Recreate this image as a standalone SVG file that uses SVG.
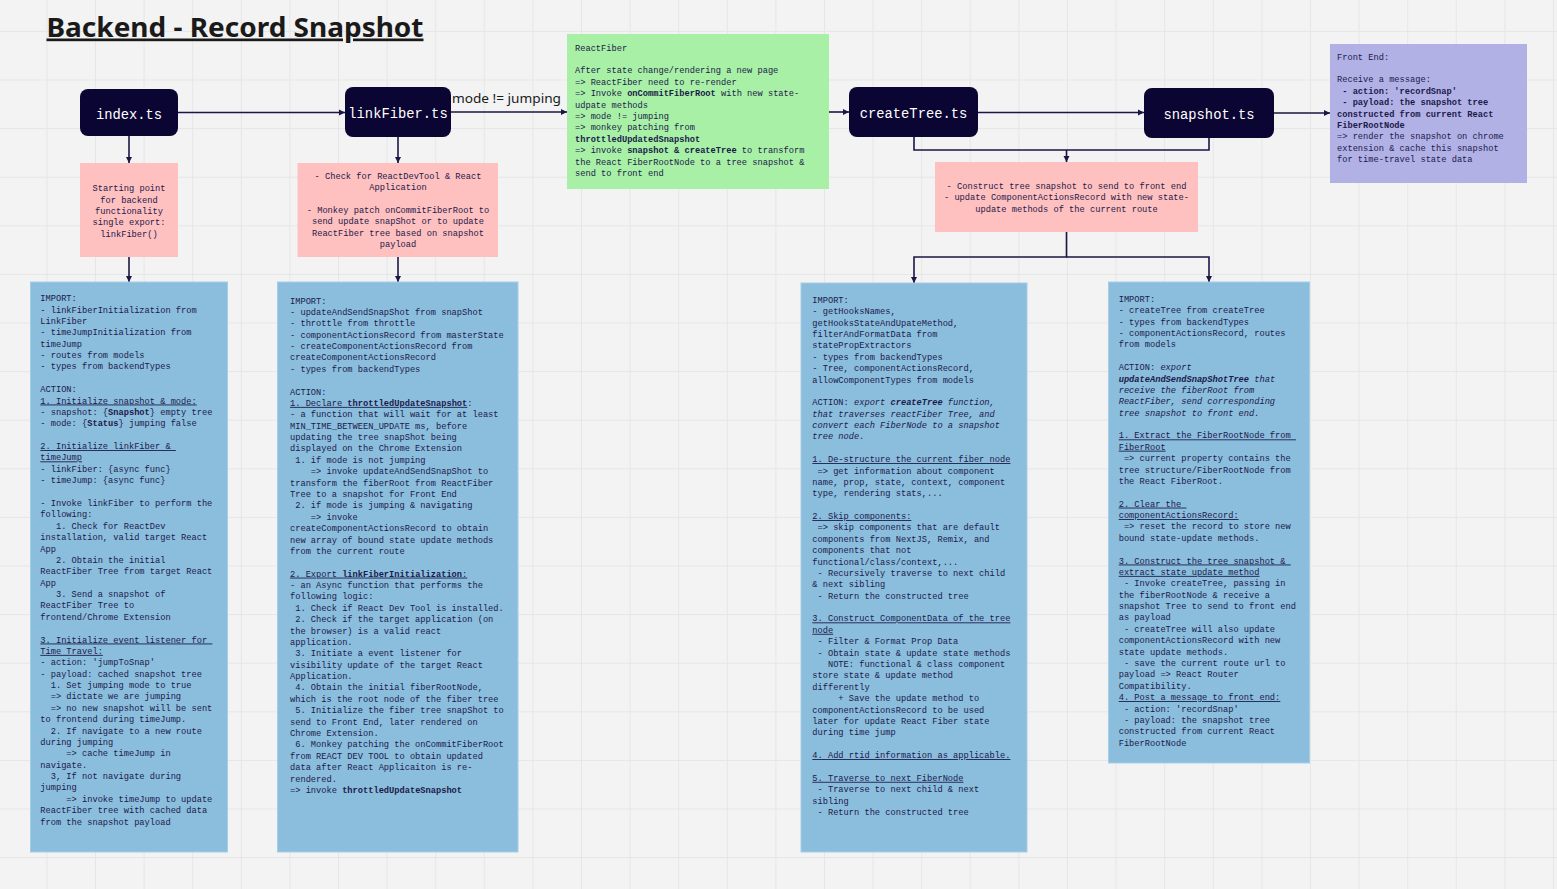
<svg xmlns="http://www.w3.org/2000/svg" width="1557" height="889" viewBox="0 0 1557 889" xml:space="preserve">
<defs>
<pattern id="grid" x="46.4" y="30.9" width="48.6" height="48.6" patternUnits="userSpaceOnUse"><path d="M0.5,0 V48.6 M0,0.5 H48.6" stroke="#e6e6e6" stroke-width="1" fill="none"/></pattern>
<marker id="ah" markerUnits="userSpaceOnUse" markerWidth="7" markerHeight="7" refX="6" refY="3.5" orient="auto"><path d="M0,0.5 L6,3.5 L0,6.5 z" fill="#1b1646"/></marker>
<style>
text{white-space:pre}
.t{font-family:"Liberation Mono","DejaVu Sans Mono",monospace;font-size:8.7px;fill:#1b1a4a;white-space:pre}
.c{text-anchor:middle}
.b{font-weight:bold}
.i{font-style:italic}
.u{text-decoration:underline}
.nd{fill:#0b0533}
.nt{font-family:"Liberation Mono","DejaVu Sans Mono",monospace;font-size:13.8px;fill:#ffffff;text-anchor:middle}
.pink{fill:#ffc0c0}
.blue{fill:#8bbddd;stroke:#a6cde8;stroke-width:1}
.cn{fill:none;stroke:#1b1646;stroke-width:1.6}
</style>
</defs>
<rect width="1557" height="889" fill="#f3f3f3"/>
<rect width="1557" height="889" fill="url(#grid)"/>
<text x="46.5" y="36.5" font-family="'Noto Sans','Open Sans',sans-serif" font-size="27" font-weight="bold" fill="#1a1a1a" text-decoration="underline" textLength="377" lengthAdjust="spacingAndGlyphs">Backend - Record Snapshot</text>
<g id="connectors">
<path class="cn" d="M178,112.5 H345" marker-end="url(#ah)"/>
<path class="cn" d="M451,112 H567" marker-end="url(#ah)"/>
<path class="cn" d="M829,112 H849" marker-end="url(#ah)"/>
<path class="cn" d="M978,112.5 H1144" marker-end="url(#ah)"/>
<path class="cn" d="M1274,113 H1330" marker-end="url(#ah)"/>
<path class="cn" d="M129,136 V163" marker-end="url(#ah)"/>
<path class="cn" d="M129,257 V282" marker-end="url(#ah)"/>
<path class="cn" d="M398,137 V163" marker-end="url(#ah)"/>
<path class="cn" d="M398,257 V282" marker-end="url(#ah)"/>
<path class="cn" d="M914,137 V150 H1209 V138"/>
<path class="cn" d="M1066.5,150 V162" marker-end="url(#ah)"/>
<path class="cn" d="M1066.5,232 V257 H914 V283" marker-end="url(#ah)"/>
<path class="cn" d="M1066.5,257 H1209 V282" marker-end="url(#ah)"/>
<text x="452" y="102.5" font-family="'Noto Sans','Open Sans',sans-serif" font-size="13" fill="#1a1a1a" textLength="109" lengthAdjust="spacingAndGlyphs">mode != jumping</text>
</g>
<g id="index-ts"><rect class="nd" x="80" y="89" width="98" height="47" rx="8"/><text class="nt" x="129" y="119">index.ts</text></g>
<g id="linkfiber-ts"><rect class="nd" x="345" y="87" width="106" height="50" rx="8"/><text class="nt" x="398" y="118">linkFiber.ts</text></g>
<g id="createtree-ts"><rect class="nd" x="849" y="87" width="129" height="50" rx="8"/><text class="nt" x="913.5" y="118">createTree.ts</text></g>
<g id="snapshot-ts"><rect class="nd" x="1144" y="88" width="130" height="50" rx="8"/><text class="nt" x="1209" y="119">snapshot.ts</text></g>
<g id="index-note"><rect class="pink" x="80" y="163" width="98" height="94"/>
<text class="t c" x="129" y="191.1">Starting point</text>
<text class="t c" x="129" y="202.5">for backend</text>
<text class="t c" x="129" y="213.9">functionality</text>
<text class="t c" x="129" y="225.3">single export:</text>
<text class="t c" x="129" y="236.7">linkFiber()</text>
</g>
<g id="linkfiber-note"><rect class="pink" x="297.5" y="163" width="200.5" height="94"/>
<text class="t c" x="398" y="178.8">- Check for ReactDevTool &amp; React</text>
<text class="t c" x="398" y="190.2">Application</text>
<text class="t c" x="398" y="213">- Monkey patch onCommitFiberRoot to</text>
<text class="t c" x="398" y="224.4">send update snapShot or to update</text>
<text class="t c" x="398" y="235.8">ReactFiber tree based on snapshot</text>
<text class="t c" x="398" y="247.2">payload</text>
</g>
<g id="reactfiber"><rect x="567" y="34" width="262" height="155" fill="#a8f0a6"/>
<text class="t" x="575" y="50.5">ReactFiber</text>
<text class="t" x="575" y="73.3">After state change/rendering a new page</text>
<text class="t" x="575" y="84.7">=&gt; ReactFiber need to re-render</text>
<text class="t" x="575" y="96.1">=&gt; Invoke <tspan class="b">onCommitFiberRoot</tspan> with new state-</text>
<text class="t" x="575" y="107.5">udpate methods</text>
<text class="t" x="575" y="118.9">=&gt; mode != jumping</text>
<text class="t" x="575" y="130.3">=&gt; monkey patching from</text>
<text class="t b" x="575" y="141.7">throttledUpdatedSnapshot</text>
<text class="t" x="575" y="153.1">=&gt; invoke <tspan class="b">snapshot &amp; createTree</tspan> to transform</text>
<text class="t" x="575" y="164.5">the React FiberRootNode to a tree snapshot &amp;</text>
<text class="t" x="575" y="175.9">send to front end</text>
</g>
<g id="tree-note"><rect class="pink" x="935" y="162" width="263" height="70"/>
<text class="t c" x="1066.5" y="188.8">- Construct tree snapshot to send to front end</text>
<text class="t c" x="1066.5" y="200.2">- update ComponentActionsRecord with new state-</text>
<text class="t c" x="1066.5" y="211.6">update methods of the current route</text>
</g>
<g id="front-end"><rect x="1330" y="44" width="197" height="139" fill="#b2b1e6"/>
<text class="t" x="1337" y="59.5">Front End:</text>
<text class="t" x="1337" y="82.3">Receive a message:</text>
<text class="t b" x="1337" y="93.7"> - action: 'recordSnap'</text>
<text class="t b" x="1337" y="105.1"> - payload: the snapshot tree</text>
<text class="t b" x="1337" y="116.5">constructed from current React</text>
<text class="t b" x="1337" y="127.9">FiberRootNode</text>
<text class="t" x="1337" y="139.3">=&gt; render the snapshot on chrome</text>
<text class="t" x="1337" y="150.7">extension &amp; cache this snapshot</text>
<text class="t" x="1337" y="162.1">for time-travel state data</text>
</g>
<g id="index-detail"><rect class="blue" x="30.5" y="282" width="197" height="570"/>
<text class="t" x="40.3" y="301.1">IMPORT:</text>
<text class="t" x="40.3" y="312.5">- linkFiberInitialization from</text>
<text class="t" x="40.3" y="323.9">LinkFiber</text>
<text class="t" x="40.3" y="335.2">- timeJumpInitialization from</text>
<text class="t" x="40.3" y="346.6">timeJump</text>
<text class="t" x="40.3" y="358">- routes from models</text>
<text class="t" x="40.3" y="369.4">- types from backendTypes</text>
<text class="t" x="40.3" y="392.1">ACTION:</text>
<text class="t u" x="40.3" y="403.5">1. Initialize snapshot &amp; mode:</text>
<text class="t" x="40.3" y="414.9">- snapshot: {<tspan class="b">Snapshot</tspan>} empty tree</text>
<text class="t" x="40.3" y="426.3">- mode: {<tspan class="b">Status</tspan>} jumping false</text>
<text class="t u" x="40.3" y="449">2. Initialize linkFiber &amp; </text>
<text class="t u" x="40.3" y="460.4">timeJump</text>
<text class="t" x="40.3" y="471.8">- linkFiber: {async func}</text>
<text class="t" x="40.3" y="483.2">- timeJump: {async func}</text>
<text class="t" x="40.3" y="505.9">- Invoke linkFiber to perform the</text>
<text class="t" x="40.3" y="517.3">following:</text>
<text class="t" x="40.3" y="528.7">   1. Check for ReactDev</text>
<text class="t" x="40.3" y="540.1">installation, valid target React</text>
<text class="t" x="40.3" y="551.5">App</text>
<text class="t" x="40.3" y="562.8">   2. Obtain the initial</text>
<text class="t" x="40.3" y="574.2">ReactFiber Tree from target React</text>
<text class="t" x="40.3" y="585.6">App</text>
<text class="t" x="40.3" y="597">   3. Send a snapshot of</text>
<text class="t" x="40.3" y="608.4">ReactFiber Tree to</text>
<text class="t" x="40.3" y="619.7">frontend/Chrome Extension</text>
<text class="t u" x="40.3" y="642.5">3. Initialize event listener for </text>
<text class="t u" x="40.3" y="653.9">Time Travel:</text>
<text class="t" x="40.3" y="665.3">- action: 'jumpToSnap'</text>
<text class="t" x="40.3" y="676.6">- payload: cached snapshot tree</text>
<text class="t" x="40.3" y="688">  1. Set jumping mode to true</text>
<text class="t" x="40.3" y="699.4">  =&gt; dictate we are jumping</text>
<text class="t" x="40.3" y="710.8">  =&gt; no new snapshot will be sent</text>
<text class="t" x="40.3" y="722.2">to frontend during timeJump.</text>
<text class="t" x="40.3" y="733.5">  2. If navigate to a new route</text>
<text class="t" x="40.3" y="744.9">during jumping</text>
<text class="t" x="40.3" y="756.3">     =&gt; cache timeJump in</text>
<text class="t" x="40.3" y="767.7">navigate.</text>
<text class="t" x="40.3" y="779.1">  3, If not navigate during</text>
<text class="t" x="40.3" y="790.4">jumping</text>
<text class="t" x="40.3" y="801.8">     =&gt; invoke timeJump to update</text>
<text class="t" x="40.3" y="813.2">ReactFiber tree with cached data</text>
<text class="t" x="40.3" y="824.6">from the snapshot payload</text>
</g>
<g id="linkfiber-detail"><rect class="blue" x="277.5" y="282" width="240.5" height="570"/>
<text class="t" x="290" y="303.5">IMPORT:</text>
<text class="t" x="290" y="314.9">- updateAndSendSnapShot from snapShot</text>
<text class="t" x="290" y="326.3">- throttle from throttle</text>
<text class="t" x="290" y="337.6">- componentActionsRecord from masterState</text>
<text class="t" x="290" y="349">- createComponentActionsRecord from</text>
<text class="t" x="290" y="360.4">createComponentActionsRecord</text>
<text class="t" x="290" y="371.8">- types from backendTypes</text>
<text class="t" x="290" y="394.5">ACTION:</text>
<text class="t" x="290" y="405.9"><tspan class="u">1. Declare <tspan class="b">throttledUpdateSnapshot</tspan></tspan>:</text>
<text class="t" x="290" y="417.3">- a function that will wait for at least</text>
<text class="t" x="290" y="428.7">MIN_TIME_BETWEEN_UPDATE ms, before</text>
<text class="t" x="290" y="440.1">updating the tree snapShot being</text>
<text class="t" x="290" y="451.4">displayed on the Chrome Extension</text>
<text class="t" x="290" y="462.8"> 1. if mode is not jumping</text>
<text class="t" x="290" y="474.2">    =&gt; invoke updateAndSendSnapShot to</text>
<text class="t" x="290" y="485.6">transform the fiberRoot from ReactFiber</text>
<text class="t" x="290" y="497">Tree to a snapshot for Front End</text>
<text class="t" x="290" y="508.3"> 2. if mode is jumping &amp; navigating</text>
<text class="t" x="290" y="519.7">    =&gt; invoke</text>
<text class="t" x="290" y="531.1">createComponentActionsRecord to obtain</text>
<text class="t" x="290" y="542.5">new array of bound state update methods</text>
<text class="t" x="290" y="553.9">from the current route</text>
<text class="t u" x="290" y="576.6">2. Export <tspan class="b">linkFiberInitialization</tspan>:</text>
<text class="t" x="290" y="588">- an Async function that performs the</text>
<text class="t" x="290" y="599.4">following logic:</text>
<text class="t" x="290" y="610.8"> 1. Check if React Dev Tool is installed.</text>
<text class="t" x="290" y="622.2"> 2. Check if the target application (on</text>
<text class="t" x="290" y="633.5">the browser) is a valid react</text>
<text class="t" x="290" y="644.9">application.</text>
<text class="t" x="290" y="656.3"> 3. Initiate a event listener for</text>
<text class="t" x="290" y="667.7">visibility update of the target React</text>
<text class="t" x="290" y="679">Application.</text>
<text class="t" x="290" y="690.4"> 4. Obtain the initial fiberRootNode,</text>
<text class="t" x="290" y="701.8">which is the root node of the fiber tree</text>
<text class="t" x="290" y="713.2"> 5. Initialize the fiber tree snapShot to</text>
<text class="t" x="290" y="724.6">send to Front End, later rendered on</text>
<text class="t" x="290" y="735.9">Chrome Extension.</text>
<text class="t" x="290" y="747.3"> 6. Monkey patching the onCommitFiberRoot</text>
<text class="t" x="290" y="758.7">from REACT DEV TOOL to obtain updated</text>
<text class="t" x="290" y="770.1">data after React Applicaiton is re-</text>
<text class="t" x="290" y="781.5">rendered.</text>
<text class="t" x="290" y="792.8">=&gt; invoke <tspan class="b">throttledUpdateSnapshot</tspan></text>
</g>
<g id="createtree-detail"><rect class="blue" x="801" y="283" width="226" height="569"/>
<text class="t" x="812.3" y="302.8">IMPORT:</text>
<text class="t" x="812.3" y="314.2">- getHooksNames,</text>
<text class="t" x="812.3" y="325.6">getHooksStateAndUpateMethod,</text>
<text class="t" x="812.3" y="336.9">filterAndFormatData from</text>
<text class="t" x="812.3" y="348.3">statePropExtractors</text>
<text class="t" x="812.3" y="359.7">- types from backendTypes</text>
<text class="t" x="812.3" y="371.1">- Tree, componentActionsRecord,</text>
<text class="t" x="812.3" y="382.5">allowComponentTypes from models</text>
<text class="t" x="812.3" y="405.2">ACTION: <tspan class="i">export </tspan><tspan class="b i">createTree</tspan><tspan class="i"> function,</tspan></text>
<text class="t i" x="812.3" y="416.6">that traverses reactFiber Tree, and</text>
<text class="t i" x="812.3" y="428">convert each FiberNode to a snapshot</text>
<text class="t i" x="812.3" y="439.3">tree node.</text>
<text class="t u" x="812.3" y="462.1">1. De-structure the current fiber node</text>
<text class="t" x="812.3" y="473.5"> =&gt; get information about component</text>
<text class="t" x="812.3" y="484.9">name, prop, state, context, component</text>
<text class="t" x="812.3" y="496.3">type, rendering stats,...</text>
<text class="t u" x="812.3" y="519">2. Skip components:</text>
<text class="t" x="812.3" y="530.4"> =&gt; skip components that are default</text>
<text class="t" x="812.3" y="541.8">components from NextJS, Remix, and</text>
<text class="t" x="812.3" y="553.1">components that not</text>
<text class="t" x="812.3" y="564.5">functional/class/context,...</text>
<text class="t" x="812.3" y="575.9"> - Recursively traverse to next child</text>
<text class="t" x="812.3" y="587.3">&amp; next sibling</text>
<text class="t" x="812.3" y="598.7"> - Return the constructed tree</text>
<text class="t u" x="812.3" y="621.4">3. Construct ComponentData of the tree</text>
<text class="t u" x="812.3" y="632.8">node</text>
<text class="t" x="812.3" y="644.2"> - Filter &amp; Format Prop Data</text>
<text class="t" x="812.3" y="655.6"> - Obtain state &amp; update state methods</text>
<text class="t" x="812.3" y="666.9">   NOTE: functional &amp; class component</text>
<text class="t" x="812.3" y="678.3">store state &amp; update method</text>
<text class="t" x="812.3" y="689.7">differently</text>
<text class="t" x="812.3" y="701.1">     + Save the update method to</text>
<text class="t" x="812.3" y="712.5">componentActionsRecord to be used</text>
<text class="t" x="812.3" y="723.8">later for update React Fiber state</text>
<text class="t" x="812.3" y="735.2">during time jump</text>
<text class="t u" x="812.3" y="758">4. Add rtid information as applicable.</text>
<text class="t u" x="812.3" y="780.8">5. Traverse to next FiberNode</text>
<text class="t" x="812.3" y="792.1"> - Traverse to next child &amp; next</text>
<text class="t" x="812.3" y="803.5">sibling</text>
<text class="t" x="812.3" y="814.9"> - Return the constructed tree</text>
</g>
<g id="snapshot-detail"><rect class="blue" x="1108.5" y="282" width="201" height="481"/>
<text class="t" x="1118.7" y="301.8">IMPORT:</text>
<text class="t" x="1118.7" y="313.2">- createTree from createTree</text>
<text class="t" x="1118.7" y="324.6">- types from backendTypes</text>
<text class="t" x="1118.7" y="336">- componentActionsRecord, routes</text>
<text class="t" x="1118.7" y="347.3">from models</text>
<text class="t" x="1118.7" y="370.1">ACTION: <tspan class="i">export</tspan></text>
<text class="t" x="1118.7" y="381.5"><tspan class="b i">updateAndSendSnapShotTree</tspan><tspan class="i"> that</tspan></text>
<text class="t i" x="1118.7" y="392.8">receive the fiberRoot from</text>
<text class="t i" x="1118.7" y="404.2">ReactFiber, send corresponding</text>
<text class="t i" x="1118.7" y="415.6">tree snapshot to front end.</text>
<text class="t u" x="1118.7" y="438.4">1. Extract the FiberRootNode from </text>
<text class="t u" x="1118.7" y="449.7">FiberRoot</text>
<text class="t" x="1118.7" y="461.1"> =&gt; current property contains the</text>
<text class="t" x="1118.7" y="472.5">tree structure/FiberRootNode from</text>
<text class="t" x="1118.7" y="483.9">the React FiberRoot.</text>
<text class="t u" x="1118.7" y="506.6">2. Clear the </text>
<text class="t u" x="1118.7" y="518">componentActionsRecord:</text>
<text class="t" x="1118.7" y="529.4"> =&gt; reset the record to store new</text>
<text class="t" x="1118.7" y="540.8">bound state-update methods.</text>
<text class="t u" x="1118.7" y="563.5">3. Construct the tree snapshot &amp; </text>
<text class="t u" x="1118.7" y="574.9">extract state update method</text>
<text class="t" x="1118.7" y="586.3"> - Invoke createTree, passing in</text>
<text class="t" x="1118.7" y="597.7">the fiberRootNode &amp; receive a</text>
<text class="t" x="1118.7" y="609">snapshot Tree to send to front end</text>
<text class="t" x="1118.7" y="620.4">as payload</text>
<text class="t" x="1118.7" y="631.8"> - createTree will also update</text>
<text class="t" x="1118.7" y="643.2">componentActionsRecord with new</text>
<text class="t" x="1118.7" y="654.6">state update methods.</text>
<text class="t" x="1118.7" y="665.9"> - save the current route url to</text>
<text class="t" x="1118.7" y="677.3">payload =&gt; React Router</text>
<text class="t" x="1118.7" y="688.7">Compatibility.</text>
<text class="t u" x="1118.7" y="700.1">4. Post a message to front end:</text>
<text class="t" x="1118.7" y="711.5"> - action: 'recordSnap'</text>
<text class="t" x="1118.7" y="722.8"> - payload: the snapshot tree</text>
<text class="t" x="1118.7" y="734.2">constructed from current React</text>
<text class="t" x="1118.7" y="745.6">FiberRootNode</text>
</g>
</svg>
